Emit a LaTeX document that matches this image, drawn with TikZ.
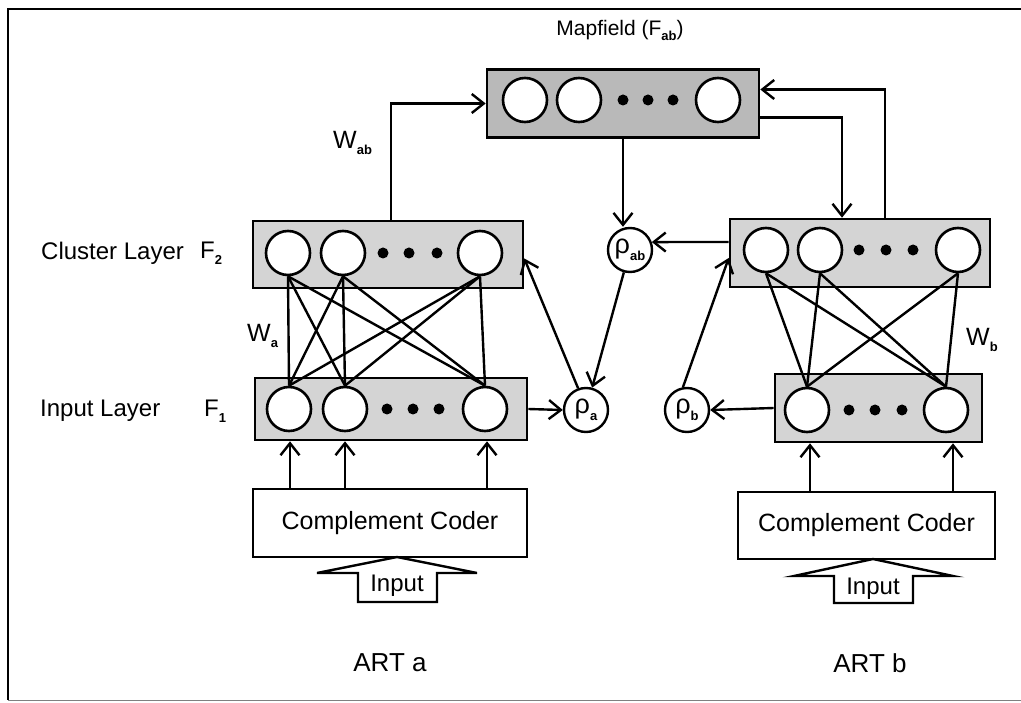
\documentclass[tikz,border=0pt]{standalone}
\usepackage{fontspec}
\setmainfont{Liberation Sans}
\usetikzlibrary{arrows.meta}
\newcommand{\lsub}[1]{\raisebox{-0.45ex}{\fontsize{13}{13}\selectfont\bfseries #1}}
\begin{document}
\begin{tikzpicture}[x=1pt,y=-1pt,
  neuron/.style={circle, draw, line width=2.6pt, fill=white, minimum size=44pt, inner sep=0pt},
  dotn/.style={circle, fill=black, minimum size=11pt, inner sep=0pt},
  layer/.style={draw, line width=2.6pt, fill=gray!34, inner sep=0pt},
  maplayer/.style={layer, fill=gray!55},
  rho/.style={circle, draw, line width=2.4pt, fill=white, minimum size=44pt, inner sep=0pt, font=\fontsize{27}{27}\selectfont},
  conn/.style={line width=2.4pt},
  arr/.style={line width=2.4pt, -{Straight Barb[length=12pt,width=19pt,line width=2.4pt]}},
  coder/.style={draw, line width=2.2pt, inner sep=0pt, font=\fontsize{25}{30}\selectfont},
  lbl/.style={font=\fontsize{25}{30}\selectfont, inner sep=0pt},
  blockarrow/.style={draw, line width=2.4pt, fill=white, line join=miter}
]
\useasboundingbox (0,0) rectangle (1021,703);
% frame
\draw[line width=2pt] (1021,9) -- (8,9) -- (8,700);
\draw[line width=1pt, gray] (8,700) -- (1021,700);

% Mapfield
\node[maplayer, minimum width=272pt, minimum height=68pt] (mapbox) at (623,103.5) {};
\node[neuron] (m1) at (525,100) {};
\node[neuron] (m2) at (579,100) {};
\node[neuron] (m3) at (718,100) {};
\foreach \x [count=\i] in {623,648,673} \node[dotn] (md\i) at (\x,100) {};
\node[lbl, font=\fontsize{21}{24}\selectfont] (maplbl) at (620,30) {Mapfield (F\lsub{ab})};

% ART a layers
\node[layer, minimum width=270pt, minimum height=67pt] (aF2) at (388,254.5) {};
\node[neuron] (a21) at (288,253) {};
\node[neuron] (a22) at (343,253) {};
\node[neuron] (a23) at (480,253) {};
\foreach \x [count=\i] in {383,409,437} \node[dotn] (ad2\i) at (\x,253) {};

\node[layer, minimum width=272pt, minimum height=62pt] (aF1) at (391,409) {};
\node[neuron] (a11) at (289,409) {};
\node[neuron] (a12) at (345,409) {};
\node[neuron] (a13) at (485,409) {};
\foreach \x [count=\i] in {387,413,439} \node[dotn] (ad1\i) at (\x,409) {};

% ART b layers
\node[layer, minimum width=260pt, minimum height=68pt] (bF2) at (860,253) {};
\node[neuron] (b21) at (766,250) {};
\node[neuron] (b22) at (820,250) {};
\node[neuron] (b23) at (958,250) {};
\foreach \x [count=\i] in {859,886,913} \node[dotn] (bd2\i) at (\x,250) {};

\node[layer, minimum width=207pt, minimum height=68pt] (bF1) at (878.5,408) {};
\node[neuron] (b11) at (807,410) {};
\node[neuron] (b12) at (946,410) {};
\foreach \x [count=\i] in {849,875,902} \node[dotn] (bd1\i) at (\x,410) {};

% interlayer weights
\foreach \u in {a21,a22,a23} \foreach \l in {a11,a12,a13} \draw[conn] (\u.south) -- (\l.north);
\foreach \u in {b21,b22,b23} \foreach \l in {b11,b12} \draw[conn] (\u.south) -- (\l.north);

% rho nodes
\node[rho] (rab) at (630,250) {ρ\lsub{ab}};
\node[rho] (ra) at (586,410) {ρ\lsub{a}};
\node[rho] (rb) at (687,410) {ρ\lsub{b}};

% complement coders
\node[coder, minimum width=274pt, minimum height=68pt] (aCC) at (390,523) {Complement Coder};
\node[coder, minimum width=257pt, minimum height=67pt] (bCC) at (866.5,525.5) {Complement Coder};

% input block arrows
\draw[blockarrow] (397,557) -- (317,573) -- (358,573) -- (358,602) -- (437,602) -- (437,573) -- (477,573) -- cycle;
\node[lbl, font=\fontsize{24}{28}\selectfont] (ain) at (397,586) {Input};
\draw[blockarrow] (873,559) -- (794,576) -- (834,576) -- (834,603) -- (913,603) -- (913,576) -- (953,576) -- cycle;
\node[lbl, font=\fontsize{24}{28}\selectfont] (bin) at (873,589) {Input};

% coder -> F1 arrows
\foreach \x in {290,345,487} \draw[arr] (aCC.north -| \x,0) -- (aF1.south -| \x,0);
\foreach \x in {810,953} \draw[arr] (bCC.north -| \x,0) -- (bF1.south -| \x,0);

% control connections
\draw[arr] (mapbox.south) -- (mapbox.south |- rab.north);
\draw[arr] (rab) -- (ra);
\draw[arr] ([yshift=11pt]bF2.west) -- (rab.20);
\draw[arr] (ra.110) -- ([yshift=-4pt]aF2.east);
\draw[arr] (aF1.east) -- (ra.west);
\draw[arr] (rb.100) -- ([yshift=-5pt]bF2.west);
\draw[arr] (bF1.west) -- (rb.east);
\draw[arr] ([xshift=3pt]aF2.north) |- (mapbox.west);
\draw[arr] ([xshift=25pt]bF2.north) |- ([yshift=14pt]mapbox.east);
\draw[arr] ([yshift=-14pt]mapbox.east) -| ([xshift=-18pt]bF2.north);

% labels
\node[lbl, anchor=west] (wab) at (333,143) {W\lsub{ab}};
\node[lbl, anchor=west, font=\fontsize{24}{28}\selectfont] (cl) at (41,253) {Cluster Layer};
\node[lbl, anchor=west, font=\fontsize{24}{28}\selectfont] (f2) at (200,253) {F\lsub{2}};
\node[lbl, anchor=west, font=\fontsize{24}{28}\selectfont] (il) at (40,411) {Input Layer};
\node[lbl, anchor=west, font=\fontsize{24}{28}\selectfont] (f1) at (204,411) {F\lsub{1}};
\node[lbl, anchor=west] (wa) at (247,336) {W\lsub{a}};
\node[lbl, anchor=west] (wb) at (966,340) {W\lsub{b}};
\node[lbl, font=\fontsize{26}{30}\selectfont] (arta) at (390,663) {ART a};
\node[lbl, font=\fontsize{26}{30}\selectfont] (artb) at (870,663) {ART b};
\end{tikzpicture}
\end{document}
